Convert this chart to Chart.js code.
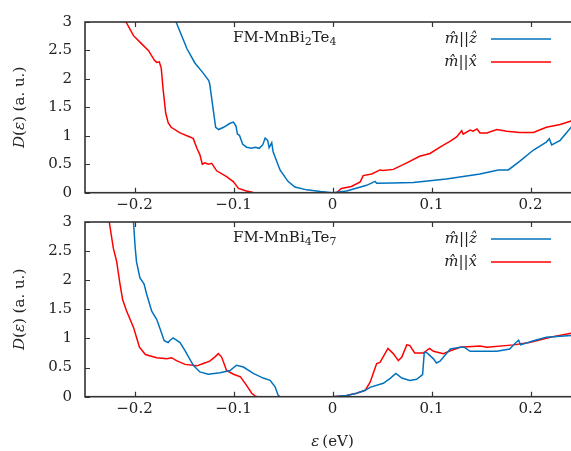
<!DOCTYPE html>
<html>
<head>
<meta charset="utf-8">
<script src="https://cdn.jsdelivr.net/npm/chart.js@4/dist/chart.umd.min.js"></script>
<style>
  html, body { margin: 0; padding: 0; background: #fff; overflow: hidden; width: 571px; height: 451px; }
  .panel { position: absolute; left: 0; width: 580px; }
  #topBox { top: 0; height: 215px; }
  #botBox { top: 200px; height: 251px; }
</style>
</head>
<body>
<div id="topBox" class="panel"><canvas id="topChart"></canvas></div>
<div id="botBox" class="panel"><canvas id="botChart"></canvas></div>
<script>
// tick values shared by both panels
const xTicks = [-0.2, -0.1, 0, 0.1, 0.2];
const yTicks = [0, 0.5, 1, 1.5, 2, 2.5, 3];

// FM-MnBi2Te4, m || z
const topZx = [-0.165, -0.158, -0.147, -0.139, -0.131, -0.125, -0.124, -0.120, -0.118, -0.115, -0.110, -0.1035, -0.100, -0.0975, -0.096, -0.094, -0.0907, -0.0867, -0.0816, -0.078, -0.074, -0.0705, -0.068, -0.0655, -0.064, -0.0614, -0.060, -0.053, -0.045, -0.038, -0.026, -0.012, 0, 0.0143, 0.0345, 0.043, 0.0446, 0.06, 0.0816, 0.115, 0.149, 0.1675, 0.1776, 0.189, 0.203, 0.216, 0.219, 0.2214, 0.23, 0.241, 0.25];
const topZy = [3.25, 3.0, 2.53, 2.28, 2.11, 1.97, 1.91, 1.40, 1.15, 1.11, 1.15, 1.22, 1.24, 1.17, 1.03, 1.01, 0.85, 0.80, 0.78, 0.80, 0.78, 0.84, 0.96, 0.92, 0.79, 0.88, 0.72, 0.40, 0.20, 0.10, 0.05, 0.02, 0, 0.03, 0.13, 0.20, 0.165, 0.17, 0.18, 0.24, 0.33, 0.40, 0.40, 0.55, 0.75, 0.89, 0.95, 0.84, 0.92, 1.15, 1.3];

// FM-MnBi2Te4, m || x
const topXx = [-0.212, -0.2086, -0.201, -0.193, -0.186, -0.180, -0.1776, -0.175, -0.173, -0.171, -0.1685, -0.166, -0.163, -0.154, -0.144, -0.1406, -0.137, -0.134, -0.1315, -0.129, -0.1255, -0.122, -0.117, -0.107, -0.100, -0.095, -0.087, -0.080, -0.06, -0.03, 0, 0.004, 0.009, 0.019, 0.028, 0.031, 0.0396, 0.048, 0.0513, 0.0614, 0.075, 0.088, 0.0985, 0.1086, 0.119, 0.1254, 0.1305, 0.132, 0.139, 0.142, 0.146, 0.149, 0.156, 0.166, 0.176, 0.189, 0.203, 0.216, 0.23, 0.241, 0.25];
const topXy = [3.1, 3.0, 2.76, 2.62, 2.50, 2.33, 2.29, 2.30, 2.19, 1.80, 1.40, 1.23, 1.15, 1.05, 0.98, 0.95, 0.78, 0.67, 0.50, 0.525, 0.50, 0.515, 0.385, 0.283, 0.19, 0.075, 0.03, 0.005, 0, 0, 0, 0, 0.075, 0.11, 0.19, 0.30, 0.33, 0.40, 0.39, 0.41, 0.525, 0.64, 0.69, 0.80, 0.905, 0.98, 1.09, 1.03, 1.10, 1.08, 1.12, 1.05, 1.05, 1.11, 1.08, 1.06, 1.06, 1.15, 1.20, 1.26, 1.29];

// FM-MnBi4Te7, m || z
const botZx = [-0.2015, -0.201, -0.1995, -0.198, -0.1945, -0.1904, -0.1877, -0.1826, -0.1776, -0.174, -0.170, -0.166, -0.164, -0.161, -0.154, -0.149, -0.1406, -0.134, -0.1255, -0.1136, -0.1035, -0.097, -0.090, -0.080, -0.070, -0.063, -0.058, -0.055, -0.053, -0.03, 0, 0.0143, 0.0244, 0.033, 0.0379, 0.0513, 0.058, 0.064, 0.070, 0.078, 0.085, 0.091, 0.0927, 0.095, 0.102, 0.105, 0.1086, 0.119, 0.129, 0.133, 0.139, 0.166, 0.179, 0.184, 0.188, 0.190, 0.203, 0.216, 0.241, 0.25];
const botZy = [3.2, 3.0, 2.60, 2.32, 2.04, 1.94, 1.76, 1.47, 1.33, 1.16, 0.96, 0.93, 0.97, 1.01, 0.93, 0.79, 0.54, 0.425, 0.385, 0.41, 0.45, 0.54, 0.51, 0.40, 0.32, 0.28, 0.17, 0.03, 0, 0, 0, 0.02, 0.06, 0.11, 0.16, 0.23, 0.31, 0.40, 0.32, 0.28, 0.30, 0.38, 0.76, 0.76, 0.65, 0.58, 0.61, 0.82, 0.85, 0.85, 0.78, 0.78, 0.82, 0.91, 0.97, 0.89, 0.96, 1.02, 1.05, 1.06];

// FM-MnBi4Te7, m || x
const botXx = [-0.227, -0.2255, -0.2214, -0.218, -0.2146, -0.212, -0.208, -0.201, -0.198, -0.195, -0.189, -0.1776, -0.1675, -0.1626, -0.1576, -0.149, -0.137, -0.1305, -0.124, -0.119, -0.1153, -0.112, -0.107, -0.100, -0.093, -0.087, -0.0816, -0.078, -0.075, -0.03, 0, 0.0143, 0.0244, 0.033, 0.038, 0.0446, 0.048, 0.056, 0.0614, 0.0665, 0.070, 0.075, 0.078, 0.083, 0.0917, 0.098, 0.102, 0.112, 0.119, 0.129, 0.149, 0.156, 0.183, 0.199, 0.22, 0.241, 0.25];
const botXy = [3.2, 3.0, 2.55, 2.32, 1.93, 1.67, 1.47, 1.19, 1.02, 0.85, 0.725, 0.67, 0.65, 0.67, 0.62, 0.555, 0.53, 0.57, 0.61, 0.68, 0.74, 0.68, 0.45, 0.385, 0.34, 0.20, 0.06, 0.01, 0, 0, 0, 0.02, 0.06, 0.11, 0.25, 0.57, 0.59, 0.83, 0.74, 0.62, 0.68, 0.89, 0.88, 0.75, 0.75, 0.83, 0.78, 0.74, 0.79, 0.85, 0.87, 0.85, 0.89, 0.93, 1.02, 1.09, 1.11];

const BLUE = "rgb(0,114,189)";
const RED = "rgb(255,0,0)";
const FRAME = "#333";
const SERIF = "'DejaVu Serif', 'Liberation Serif', serif";

// Pair up x and y arrays into chart points
function toPoints(xs, ys) {
  return xs.map((x, i) => ({ x: x, y: ys[i] }));
}

// Format a number the way LaTeX would (proper minus sign)
function fmtTick(v) {
  const s = String(Math.round(v * 10) / 10);
  return s.replace("-", "\u2212");
}

// pieces are [text, italic, subscript]
function pieceFont(size, ital, sub) {
  return (ital ? "italic " : "") + (sub ? Math.round(size * 0.7) : size) + "px " + SERIF;
}

function drawPieces(ctx, pieces, x, y, size) {
  pieces.forEach(([txt, ital, sub]) => {
    ctx.font = pieceFont(size, ital, sub);
    ctx.fillText(txt, x, sub ? y + size * 0.28 : y);
    x += ctx.measureText(txt).width;
  });
  return x;
}

function piecesWidth(ctx, pieces, size) {
  let w = 0;
  pieces.forEach(([txt, ital, sub]) => {
    ctx.font = pieceFont(size, ital, sub);
    w += ctx.measureText(txt).width;
  });
  return w;
}

// Frame, inward ticks, panel title, legend and axis titles
const decorPlugin = {
  id: "decor",
  afterDraw(chart, args, opts) {
    const ctx = chart.ctx;
    const area = chart.chartArea;
    const xs = chart.scales.x;
    const ys = chart.scales.y;
    ctx.save();

    // inward ticks
    ctx.strokeStyle = FRAME;
    ctx.lineWidth = 1.2;
    ctx.beginPath();
    xTicks.forEach(v => {
      const px = Math.round(xs.getPixelForValue(v)) + 0.5;
      ctx.moveTo(px, area.bottom); ctx.lineTo(px, area.bottom - 5);
      ctx.moveTo(px, area.top); ctx.lineTo(px, area.top + 5);
    });
    yTicks.forEach(v => {
      const py = Math.round(ys.getPixelForValue(v)) + 0.5;
      ctx.moveTo(area.left, py); ctx.lineTo(area.left + 5, py);
    });
    ctx.stroke();

    // frame
    ctx.lineWidth = 1.6;
    ctx.strokeRect(area.left, area.top, area.right - area.left, area.bottom - area.top);

    ctx.fillStyle = "#222";
    ctx.textBaseline = "middle";
    ctx.textAlign = "left";

    // panel title
    drawPieces(ctx, opts.title, 233, area.top + 16, 15);

    // legend
    const rows = [
      { pieces: [["m\u0302", true], ["||", false], ["\u1e91", true]], color: BLUE },
      { pieces: [["m\u0302", true], ["||", false], ["x\u0302", true]], color: RED }
    ];
    rows.forEach((r, i) => {
      const y = area.top + 17 + i * 23;
      const w = piecesWidth(ctx, r.pieces, 15);
      drawPieces(ctx, r.pieces, 477 - w, y, 15);
      ctx.strokeStyle = r.color;
      ctx.lineWidth = 1.6;
      ctx.beginPath();
      ctx.moveTo(491, y); ctx.lineTo(551, y);
      ctx.stroke();
    });

    // y axis title, rotated
    const yt = [["D", true], ["(", false], ["\u03b5", true], [") (a. u.)", false]];
    const cy = (area.top + area.bottom) / 2;
    ctx.save();
    ctx.translate(20, cy);
    ctx.rotate(-Math.PI / 2);
    const yw = piecesWidth(ctx, yt, 15);
    drawPieces(ctx, yt, -yw / 2, 0, 15);
    ctx.restore();

    // x axis title
    if (opts.xTitle) {
      const xt = [["\u03b5", true], ["\u2009(eV)", false]];
      const xw = piecesWidth(ctx, xt, 15);
      drawPieces(ctx, xt, xs.getPixelForValue(0) - xw / 2, area.bottom + 45, 15);
    }
    ctx.restore();
  }
};

function makePanel(canvasId, zPts, xPts, title, padTop, xAxisHeight, xTitle) {
  const tickFont = { family: SERIF, size: 15 };
  return new Chart(document.getElementById(canvasId), {
    type: "line",
    data: {
      datasets: [
        { data: zPts, borderColor: BLUE, borderWidth: 1.5, pointRadius: 0, tension: 0, fill: false },
        { data: xPts, borderColor: RED, borderWidth: 1.5, pointRadius: 0, tension: 0, fill: false }
      ]
    },
    options: {
      responsive: true,
      maintainAspectRatio: false,
      animation: false,
      events: [],
      layout: { padding: { top: padTop, left: 0, right: 0, bottom: 0 } },
      plugins: {
        legend: { display: false },
        tooltip: { enabled: false },
        decor: { title: title, xTitle: xTitle }
      },
      scales: {
        x: {
          type: "linear",
          min: -0.25,
          max: 0.25,
          afterBuildTicks: s => { s.ticks = xTicks.map(v => ({ value: v })); },
          afterFit: s => { s.height = xAxisHeight; },
          ticks: { callback: fmtTick, font: tickFont, color: "#222", padding: 3, maxRotation: 0, autoSkip: false },
          grid: { display: false, drawTicks: false },
          border: { display: false }
        },
        y: {
          type: "linear",
          min: 0,
          max: 3,
          afterBuildTicks: s => { s.ticks = yTicks.map(v => ({ value: v })); },
          afterFit: s => { s.width = 85; },
          ticks: { callback: v => String(v), font: tickFont, color: "#222", padding: 13, autoSkip: false },
          grid: { display: false, drawTicks: false },
          border: { display: false }
        }
      }
    },
    plugins: [decorPlugin]
  });
}

makePanel("topChart", toPoints(topZx, topZy), toPoints(topXx, topXy),
  [["FM-MnBi", false], ["2", false, true], ["Te", false], ["4", false, true]], 16, 22.3, false);
makePanel("botChart", toPoints(botZx, botZy), toPoints(botXx, botXy),
  [["FM-MnBi", false], ["4", false, true], ["Te", false], ["7", false, true]], 20, 54.3, true);
</script>
</body>
</html>
